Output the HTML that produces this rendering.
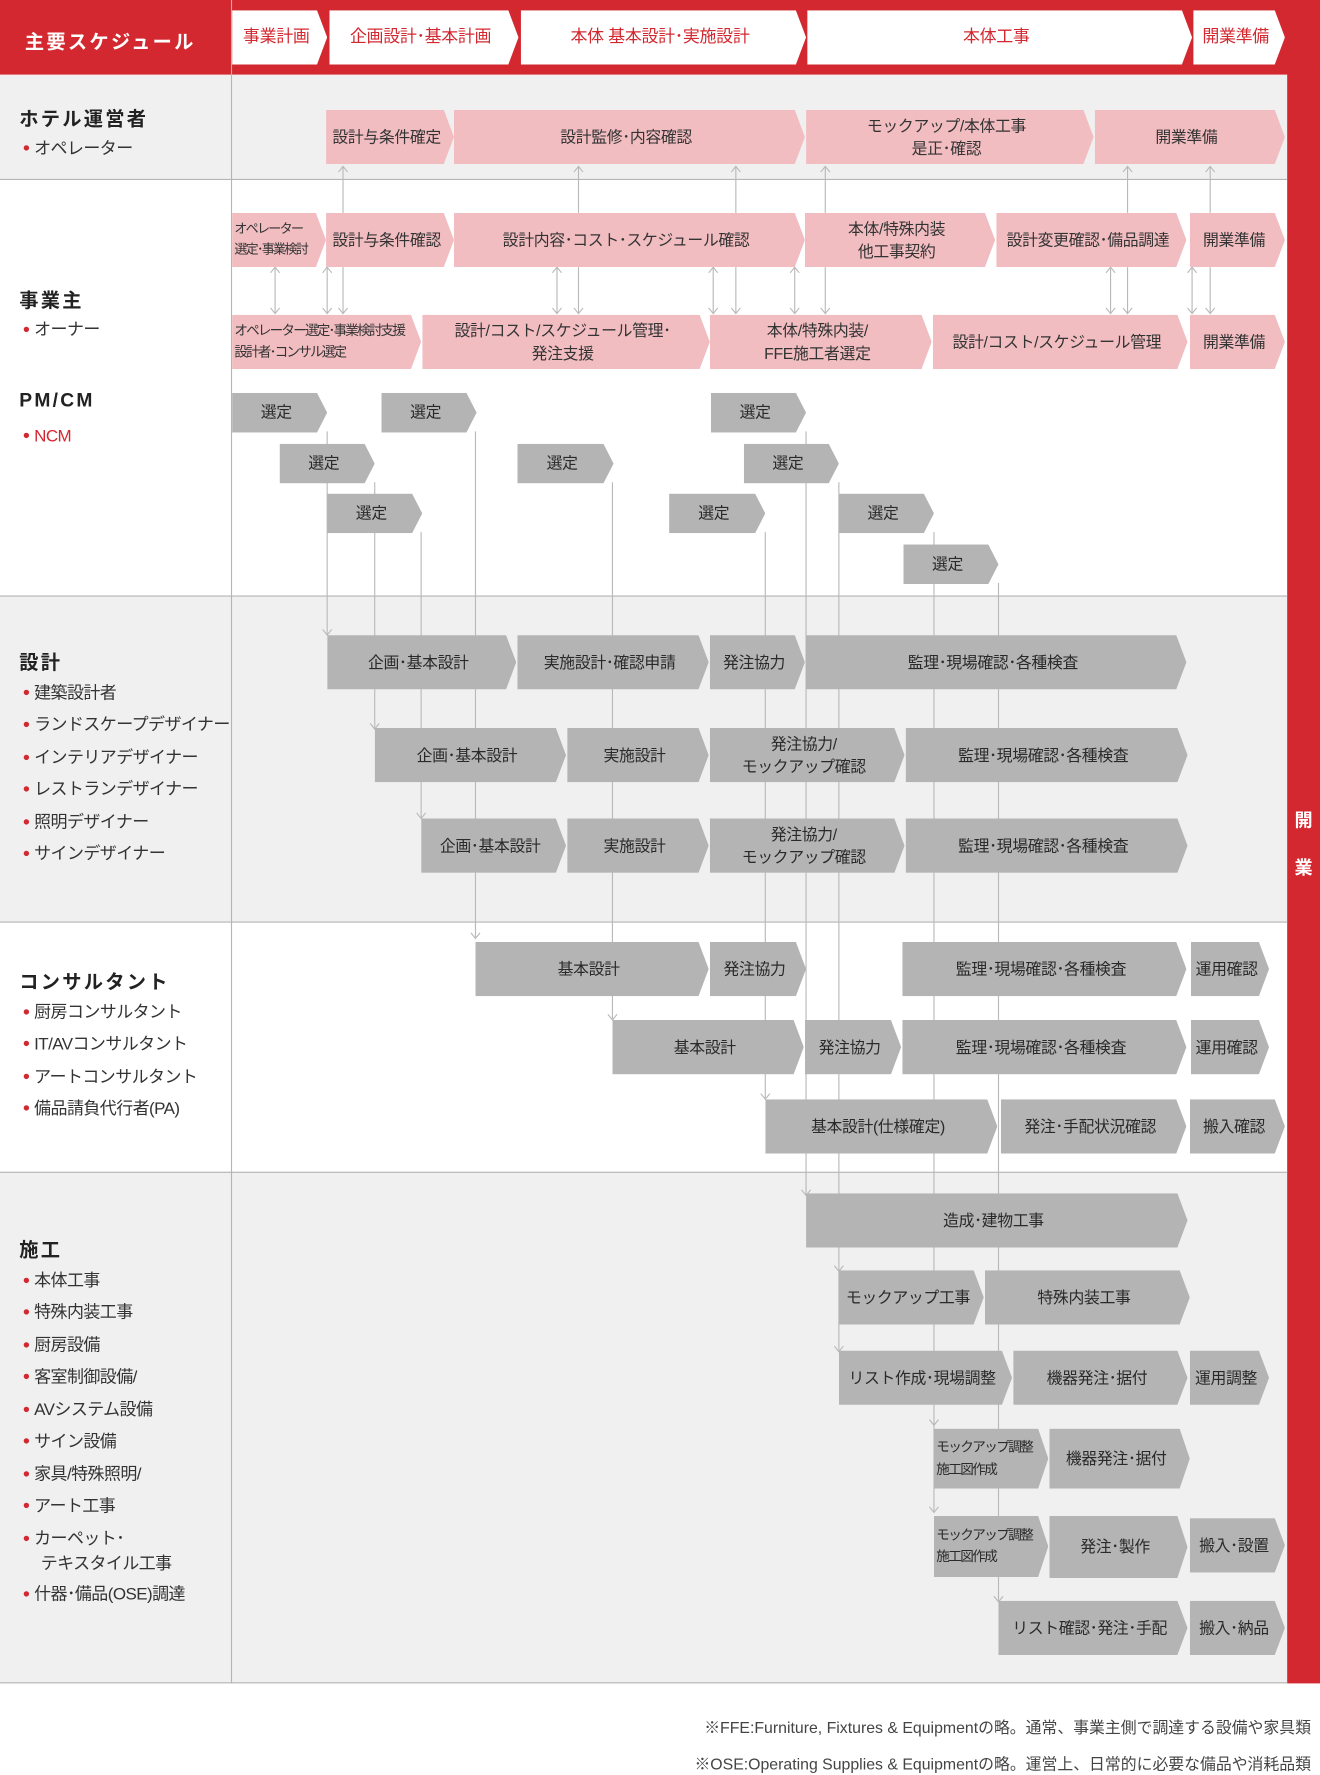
<!DOCTYPE html>
<html><head><meta charset="utf-8">
<style>
html,body{margin:0;padding:0;background:#fff;}
body{width:1320px;height:1775px;overflow:hidden;position:relative;font-family:"Liberation Sans","Noto Sans CJK JP",sans-serif;color:#333;}
#w{position:absolute;left:0;top:0;width:1166px;height:1568px;transform:scale(1.13208);transform-origin:0 0;}
.a{position:absolute;}
.c{position:absolute;display:flex;align-items:center;justify-content:center;text-align:center;font-size:14px;line-height:1.45;letter-spacing:-0.3px;clip-path:polygon(0 0,calc(100% - 9px) 0,100% 50%,calc(100% - 9px) 100%,0 100%);padding-right:6px;box-sizing:border-box;white-space:nowrap;}
.p{background:#f1bdc1;color:#333;}
.g{background:#b4b4b4;color:#2a2a2a;}
.h{background:#fff;color:#d3282f;font-size:15px;}
.l{justify-content:flex-start;text-align:left;padding-left:2px;font-size:12px;line-height:1.6;letter-spacing:-1.2px;}
.t{position:absolute;left:17px;font-size:17px;font-weight:bold;letter-spacing:2px;color:#222;}
.i{position:absolute;left:20px;font-size:15px;color:#333;letter-spacing:-0.5px;white-space:nowrap;}
.i:before{content:"●";color:#d3282f;font-size:11px;margin-right:4px;position:relative;top:-2px;}
</style></head><body><div id="w">
<div class="a" style="left:0;top:0;width:1166px;height:66px;background:#d3282f"></div>
<div class="a" style="left:0;top:66px;width:1137px;height:92px;background:#f0f0f0"></div>
<div class="a" style="left:0;top:526px;width:1137px;height:288px;background:#f0f0f0"></div>
<div class="a" style="left:0;top:1035px;width:1137px;height:452px;background:#f0f0f0"></div>
<div class="a" style="left:1137px;top:60px;width:29px;height:1427px;background:#d3282f"></div>
<div class="a" style="left:1137px;top:705px;width:29px;color:#fff;font-size:16px;font-weight:bold;text-align:center;line-height:42px">開<br>業</div>
<div class="a" style="left:204px;top:0;width:1px;height:1487px;background:#b5b5b5"></div>
<div class="a" style="left:0;top:158px;width:1137px;height:1px;background:#b5b5b5"></div>
<div class="a" style="left:0;top:526px;width:1137px;height:1px;background:#b5b5b5"></div>
<div class="a" style="left:0;top:814px;width:1137px;height:1px;background:#b5b5b5"></div>
<div class="a" style="left:0;top:1035px;width:1137px;height:1px;background:#b5b5b5"></div>
<div class="a" style="left:0;top:1486px;width:1137px;height:1px;background:#b5b5b5"></div>
<div class="a" style="left:22px;top:23px;color:#fff;font-size:17px;font-weight:bold;letter-spacing:2px">主要スケジュール</div>
<div class="c h" style="left:205px;top:9px;width:84px;height:48px">事業計画</div>
<div class="c h" style="left:291px;top:9px;width:167px;height:48px">企画設計･基本計画</div>
<div class="c h" style="left:460px;top:9px;width:252px;height:48px">本体 基本設計･実施設計</div>
<div class="c h" style="left:713px;top:9px;width:340px;height:48px">本体工事</div>
<div class="c h" style="left:1054px;top:9px;width:81px;height:48px">開業準備</div>
<div class="t" style="top:91px">ホテル運営者</div>
<div class="i" style="top:120px">オペレーター</div>
<div class="t" style="top:251px">事業主</div>
<div class="i" style="top:280px">オーナー</div>
<div class="t" style="top:344px">PM/CM</div>
<div class="i" style="top:377px;color:#d3282f">NCM</div>
<div class="t" style="top:571px">設計</div>
<div class="i" style="top:601px">建築設計者</div>
<div class="i" style="top:629px">ランドスケープデザイナー</div>
<div class="i" style="top:658px">インテリアデザイナー</div>
<div class="i" style="top:686px">レストランデザイナー</div>
<div class="i" style="top:715px">照明デザイナー</div>
<div class="i" style="top:743px">サインデザイナー</div>
<div class="t" style="top:853px">コンサルタント</div>
<div class="i" style="top:883px">厨房コンサルタント</div>
<div class="i" style="top:911px">IT/AVコンサルタント</div>
<div class="i" style="top:940px">アートコンサルタント</div>
<div class="i" style="top:968px">備品請負代行者(PA)</div>
<div class="t" style="top:1090px">施工</div>
<div class="i" style="top:1120px">本体工事</div>
<div class="i" style="top:1148px">特殊内装工事</div>
<div class="i" style="top:1177px">厨房設備</div>
<div class="i" style="top:1205px">客室制御設備/</div>
<div class="i" style="top:1234px">AVシステム設備</div>
<div class="i" style="top:1262px">サイン設備</div>
<div class="i" style="top:1291px">家具/特殊照明/</div>
<div class="i" style="top:1319px">アート工事</div>
<div class="i" style="top:1348px">カーペット･</div>
<div class="a" style="left:36px;top:1370px;font-size:15px;letter-spacing:-0.5px">テキスタイル工事</div>
<div class="i" style="top:1397px">什器･備品(OSE)調達</div>
<svg class="a" style="left:0;top:0" width="1166" height="1568" fill="none" stroke="#b9b9b9" stroke-width="1">
<path d="M303 148V188M511 148V188M650 148V188M729 148V188M996 148V188M1069 148V188"/>
<path d="M299 152l4-5 4 5M507 152l4-5 4 5M646 152l4-5 4 5M725 152l4-5 4 5M992 152l4-5 4 5M1065 152l4-5 4 5"/>
<path d="M303 236V276M511 236V276M650 236V276M729 236V276M996 236V276M1069 236V276"/>
<path d="M299 272l4 5 4-5M507 272l4 5 4-5M646 272l4 5 4-5M725 272l4 5 4-5M992 272l4 5 4-5M1065 272l4 5 4-5"/>
<path d="M243 237V276M289 237V276M492 237V276M630 237V276M702 237V276M981 237V276M1053 237V276"/>
<path d="M239 241l4-5 4 5M285 241l4-5 4 5M488 241l4-5 4 5M626 241l4-5 4 5M698 241l4-5 4 5M977 241l4-5 4 5M1049 241l4-5 4 5"/>
<path d="M239 272l4 5 4-5M285 272l4 5 4-5M488 272l4 5 4-5M626 272l4 5 4-5M698 272l4 5 4-5M977 272l4 5 4-5M1049 272l4 5 4-5"/>
<path d="M289 381V560M331 426V643M372 470V722M420 381V828M541 426V900M676 470V970M712 381V1055M741 426V1193M825 470V1335M882 515V1414"/>
<path d="M285 556l4 5 4-5M327 639l4 5 4-5M368 718l4 5 4-5M416 824l4 5 4-5M537 896l4 5 4-5M672 966l4 5 4-5M708 1051l4 5 4-5M737 1118l4 5 4-5M737 1189l4 5 4-5M821 1254l4 5 4-5M821 1331l4 5 4-5M878 1410l4 5 4-5"/>
</svg>
<div class="c p" style="left:288px;top:97px;width:113px;height:48px">設計与条件確定</div>
<div class="c p" style="left:401px;top:97px;width:310px;height:48px">設計監修･内容確認</div>
<div class="c p" style="left:712px;top:97px;width:254px;height:48px">モックアップ/本体工事<br>是正･確認</div>
<div class="c p" style="left:967px;top:97px;width:168px;height:48px">開業準備</div>
<div class="c p l" style="left:205px;top:188px;width:83px;height:48px;font-size:11.5px;letter-spacing:-1.5px">オペレーター<br>選定･事業検討</div>
<div class="c p" style="left:288px;top:188px;width:113px;height:48px">設計与条件確認</div>
<div class="c p" style="left:401px;top:188px;width:310px;height:48px">設計内容･コスト･スケジュール確認</div>
<div class="c p" style="left:711px;top:188px;width:168px;height:48px">本体/特殊内装<br>他工事契約</div>
<div class="c p" style="left:880px;top:188px;width:168px;height:48px">設計変更確認･備品調達</div>
<div class="c p" style="left:1051px;top:188px;width:84px;height:48px">開業準備</div>
<div class="c p l" style="left:205px;top:278px;width:167px;height:48px;font-size:12px;letter-spacing:-1.6px">オペレーター選定･事業検討支援<br>設計者･コンサル選定</div>
<div class="c p" style="left:373px;top:278px;width:254px;height:48px">設計/コスト/スケジュール管理･<br>発注支援</div>
<div class="c p" style="left:627px;top:278px;width:196px;height:48px">本体/特殊内装/<br>FFE施工者選定</div>
<div class="c p" style="left:824px;top:278px;width:225px;height:48px">設計/コスト/スケジュール管理</div>
<div class="c p" style="left:1051px;top:278px;width:84px;height:48px">開業準備</div>
<div class="c g" style="left:205px;top:347px;width:84px;height:35px">選定</div>
<div class="c g" style="left:337px;top:347px;width:84px;height:35px">選定</div>
<div class="c g" style="left:628px;top:347px;width:84px;height:35px">選定</div>
<div class="c g" style="left:247px;top:392px;width:84px;height:35px">選定</div>
<div class="c g" style="left:457px;top:392px;width:85px;height:35px">選定</div>
<div class="c g" style="left:657px;top:392px;width:84px;height:35px">選定</div>
<div class="c g" style="left:289px;top:436px;width:84px;height:35px">選定</div>
<div class="c g" style="left:591px;top:436px;width:85px;height:35px">選定</div>
<div class="c g" style="left:741px;top:436px;width:84px;height:35px">選定</div>
<div class="c g" style="left:798px;top:481px;width:84px;height:35px">選定</div>
<div class="c g" style="left:289px;top:561px;width:167px;height:48px">企画･基本設計</div>
<div class="c g" style="left:457px;top:561px;width:169px;height:48px">実施設計･確認申請</div>
<div class="c g" style="left:627px;top:561px;width:84px;height:48px">発注協力</div>
<div class="c g" style="left:712px;top:561px;width:336px;height:48px">監理･現場確認･各種検査</div>
<div class="c g" style="left:331px;top:643px;width:169px;height:48px">企画･基本設計</div>
<div class="c g" style="left:501px;top:643px;width:125px;height:48px">実施設計</div>
<div class="c g" style="left:627px;top:643px;width:172px;height:48px">発注協力/<br>モックアップ確認</div>
<div class="c g" style="left:800px;top:643px;width:249px;height:48px">監理･現場確認･各種検査</div>
<div class="c g" style="left:372px;top:723px;width:128px;height:48px">企画･基本設計</div>
<div class="c g" style="left:501px;top:723px;width:125px;height:48px">実施設計</div>
<div class="c g" style="left:627px;top:723px;width:172px;height:48px">発注協力/<br>モックアップ確認</div>
<div class="c g" style="left:800px;top:723px;width:249px;height:48px">監理･現場確認･各種検査</div>
<div class="c g" style="left:420px;top:832px;width:206px;height:48px">基本設計</div>
<div class="c g" style="left:627px;top:832px;width:85px;height:48px">発注協力</div>
<div class="c g" style="left:797px;top:832px;width:251px;height:48px">監理･現場確認･各種検査</div>
<div class="c g" style="left:1052px;top:832px;width:69px;height:48px">運用確認</div>
<div class="c g" style="left:541px;top:901px;width:169px;height:48px">基本設計</div>
<div class="c g" style="left:711px;top:901px;width:85px;height:48px">発注協力</div>
<div class="c g" style="left:797px;top:901px;width:251px;height:48px">監理･現場確認･各種検査</div>
<div class="c g" style="left:1052px;top:901px;width:69px;height:48px">運用確認</div>
<div class="c g" style="left:676px;top:971px;width:205px;height:48px">基本設計(仕様確定)</div>
<div class="c g" style="left:884px;top:971px;width:164px;height:48px">発注･手配状況確認</div>
<div class="c g" style="left:1051px;top:971px;width:84px;height:48px">搬入確認</div>
<div class="c g" style="left:712px;top:1054px;width:337px;height:48px">造成･建物工事</div>
<div class="c g" style="left:741px;top:1122px;width:128px;height:48px">モックアップ工事</div>
<div class="c g" style="left:870px;top:1122px;width:181px;height:48px">特殊内装工事</div>
<div class="c g" style="left:741px;top:1193px;width:153px;height:48px">リスト作成･現場調整</div>
<div class="c g" style="left:895px;top:1193px;width:154px;height:48px">機器発注･据付</div>
<div class="c g" style="left:1051px;top:1193px;width:70px;height:48px">運用調整</div>
<div class="c g l" style="left:825px;top:1262px;width:101px;height:53px;font-size:12px;letter-spacing:-1.4px">モックアップ調整<br>施工図作成</div>
<div class="c g" style="left:927px;top:1262px;width:124px;height:53px">機器発注･据付</div>
<div class="c g l" style="left:825px;top:1339px;width:101px;height:54px;font-size:12px;letter-spacing:-1.4px">モックアップ調整<br>施工図作成</div>
<div class="c g" style="left:927px;top:1339px;width:122px;height:55px">発注･製作</div>
<div class="c g" style="left:1051px;top:1341px;width:84px;height:48px">搬入･設置</div>
<div class="c g" style="left:882px;top:1414px;width:167px;height:48px">リスト確認･発注･手配</div>
<div class="c g" style="left:1051px;top:1414px;width:84px;height:48px">搬入･納品</div>
<div class="a" style="right:8px;top:1516px;font-size:14px;color:#444;text-align:right;white-space:nowrap">※FFE:Furniture, Fixtures &amp; Equipmentの略。通常、事業主側で調達する設備や家具類</div>
<div class="a" style="right:8px;top:1548px;font-size:14px;color:#444;text-align:right;white-space:nowrap">※OSE:Operating Supplies &amp; Equipmentの略。運営上、日常的に必要な備品や消耗品類</div>
</div></body></html>
